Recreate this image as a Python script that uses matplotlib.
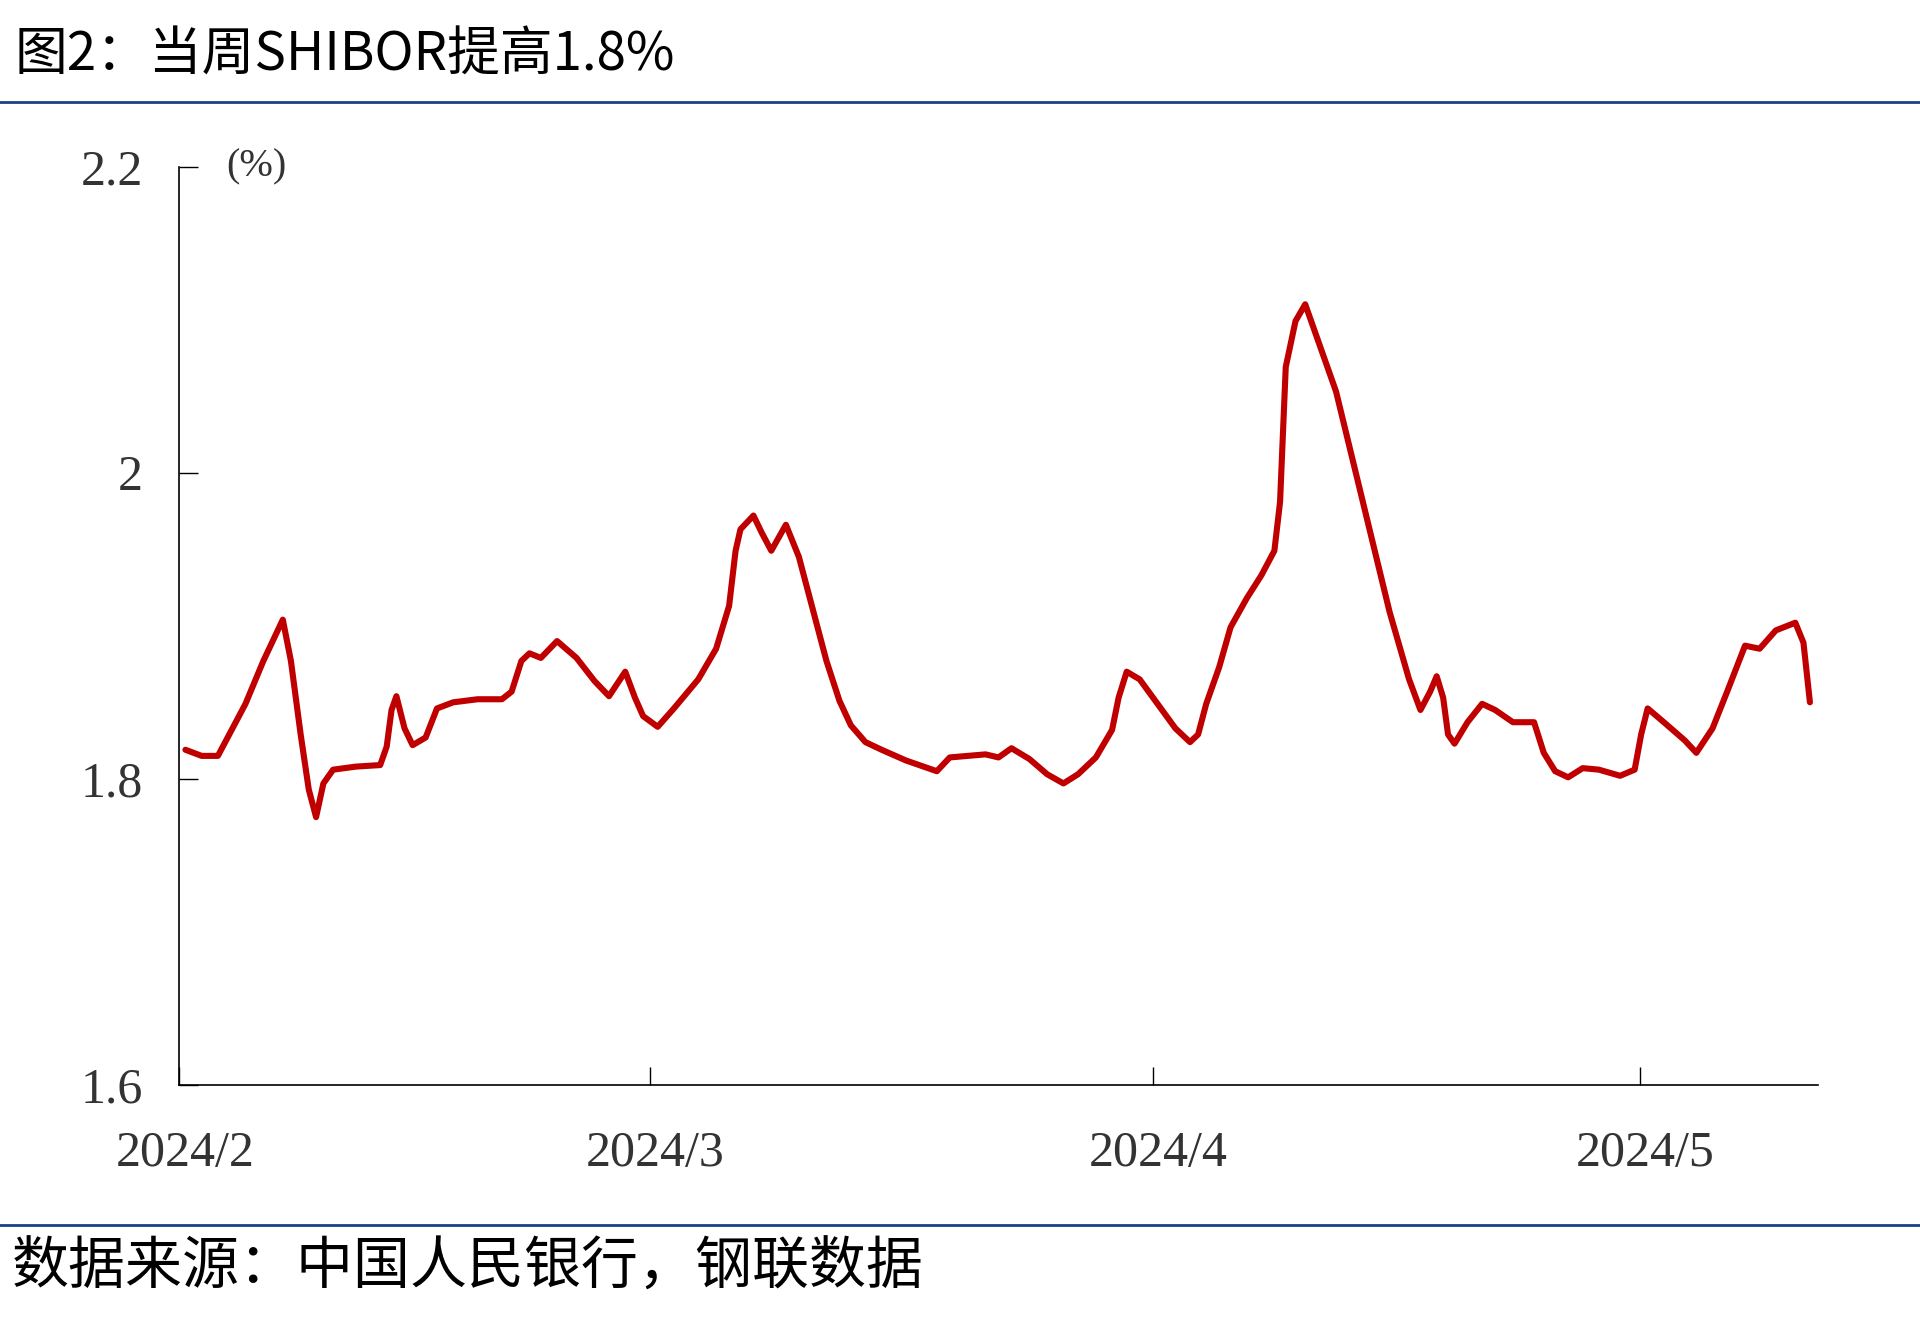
#!/usr/bin/env python3
'''
SHIBOR weekly chart
'''
import numpy as np
import pandas as pd
import matplotlib
matplotlib.use("Agg")
import matplotlib.pyplot as plt
import matplotlib.transforms as mtransforms

# days after 2024-02-01
day_offsets = [
    0.4, 1.4, 2.4, 2.9, 4.1, 5.2, 6.4, 6.9, 7.5, 8.0, 8.45, 8.9, 9.5, 10.9,
    12.4, 12.8, 13.1, 13.4, 13.9, 14.4, 15.2, 15.9, 16.9, 18.4, 19.9, 20.5,
    21.1, 21.6, 22.3, 23.3, 24.5, 25.6, 26.5, 27.5, 28.1, 28.6, 29.5, 30.5,
    32.0, 33.1, 33.9, 34.3, 34.6, 35.4, 35.9, 36.5, 37.4, 38.2, 39.0, 39.9,
    40.7, 41.4, 42.3, 43.3, 44.8, 46.7, 47.5, 48.6, 49.7, 50.5, 51.3, 52.4,
    53.5, 54.5, 55.4, 56.5, 57.5, 57.9, 58.4, 59.2, 60.3, 61.4, 62.3, 62.8,
    63.3, 64.1, 64.8, 65.8, 66.7, 67.5, 67.85, 68.2, 68.8, 69.4, 70.1, 71.3,
    72.4, 73.5, 74.6, 75.8, 76.5, 77.1, 77.5, 77.9, 78.2, 78.6, 79.4, 80.3,
    81.1, 82.2, 83.5, 84.1, 84.8, 85.6, 86.5, 87.5, 88.8, 89.7, 90.1, 90.5,
    91.5, 92.8, 93.5, 94.5, 95.4, 96.5, 97.4, 98.4, 99.6, 100.1, 100.5,
]
shibor = [
    1.819, 1.815, 1.815, 1.825, 1.849, 1.877, 1.904, 1.877, 1.829, 1.793,
    1.775, 1.797, 1.806, 1.808, 1.809, 1.821, 1.845, 1.854, 1.833, 1.822,
    1.827, 1.846, 1.850, 1.852, 1.852, 1.857, 1.877, 1.882, 1.879, 1.890,
    1.879, 1.864, 1.854, 1.870, 1.853, 1.841, 1.834, 1.846, 1.865, 1.885,
    1.913, 1.949, 1.963, 1.972, 1.961, 1.949, 1.966, 1.945, 1.913, 1.877,
    1.851, 1.835, 1.824, 1.819, 1.812, 1.805, 1.814, 1.815, 1.816, 1.814,
    1.820, 1.813, 1.803, 1.797, 1.803, 1.814, 1.832, 1.853, 1.870, 1.865,
    1.849, 1.833, 1.824, 1.829, 1.849, 1.873, 1.899, 1.918, 1.933, 1.949,
    1.981, 2.069, 2.099, 2.110, 2.089, 2.053, 2.005, 1.957, 1.909, 1.865,
    1.845, 1.857, 1.867, 1.853, 1.829, 1.823, 1.837, 1.849, 1.845, 1.837,
    1.837, 1.817, 1.805, 1.801, 1.807, 1.806, 1.802, 1.806, 1.829, 1.846,
    1.837, 1.825, 1.817, 1.833, 1.857, 1.887, 1.885, 1.897, 1.902, 1.889,
    1.850,
]
month_ticks = ["2024-02-01", "2024-03-01", "2024-04-01", "2024-05-01"]
month_labels = ["2024/2", "2024/3", "2024/4", "2024/5"]
y_ticks = [1.6, 1.8, 2.0, 2.2]
y_labels = ["1.6", "1.8", "2", "2.2"]

title = "图2：当周SHIBOR提高1.8%"
source = "数据来源：中国人民银行，钢联数据"

cjk = ["Noto Sans CJK SC", "DejaVu Sans"]
serif = "Liberation Serif"
blue = "#1b3f86"
red = "#c00000"

start = pd.Timestamp("2024-02-01")
dates = start + pd.to_timedelta(day_offsets, unit="D")

fig = plt.figure(figsize=(19.2, 13.31), dpi=100)
ax = fig.add_axes([0.0932, 0.1848, 0.8537, 0.6901])

ax.plot(dates, shibor, color=red, lw=4.4, solid_capstyle="round",
        solid_joinstyle="round")

ax.set_xlim(start, start + pd.Timedelta(days=101))
ax.set_ylim(1.6, 2.2)

ax.set_xticks(pd.to_datetime(month_ticks))
ax.set_xticklabels(month_labels)
ax.set_yticks(y_ticks)
ax.set_yticklabels(y_labels)

for side in ["top", "right"]:
    ax.spines[side].set_visible(False)
for side in ["left", "bottom"]:
    ax.spines[side].set_linewidth(1.2)

ax.tick_params(axis="y", direction="in", length=14, width=1.0, pad=26,
               labelsize=36, labelcolor="#333333")
ax.tick_params(axis="x", direction="in", length=13, width=1.0, pad=33,
               labelsize=36, labelcolor="#333333")
for lab in ax.get_xticklabels() + ax.get_yticklabels():
    lab.set_fontfamily(serif)
shift = mtransforms.ScaledTranslation(6 / 100, 0, fig.dpi_scale_trans)
for lab in ax.get_xticklabels():
    lab.set_transform(lab.get_transform() + shift)

ax.text(0.047, 1.0, "(%)", transform=ax.transAxes, ha="center", va="center",
        fontsize=29, family=serif, color="#333333")

# header and footer
fig.text(15 / 1920, 1 - 55 / 1331, title, ha="left", va="center",
         fontsize=38, family=cjk, color="black")
fig.add_artist(plt.Line2D([0, 1], [1 - 101.6 / 1331] * 2, color=blue, lw=2,
                          transform=fig.transFigure))
fig.add_artist(plt.Line2D([0, 1], [1 - 1224.5 / 1331] * 2, color=blue, lw=2,
                          transform=fig.transFigure))
fig.text(12 / 1920, 1 - 1267 / 1331, source, ha="left", va="center",
         fontsize=41, family=cjk, color="black")

fig.savefig("out.png", dpi=100, facecolor="white")
